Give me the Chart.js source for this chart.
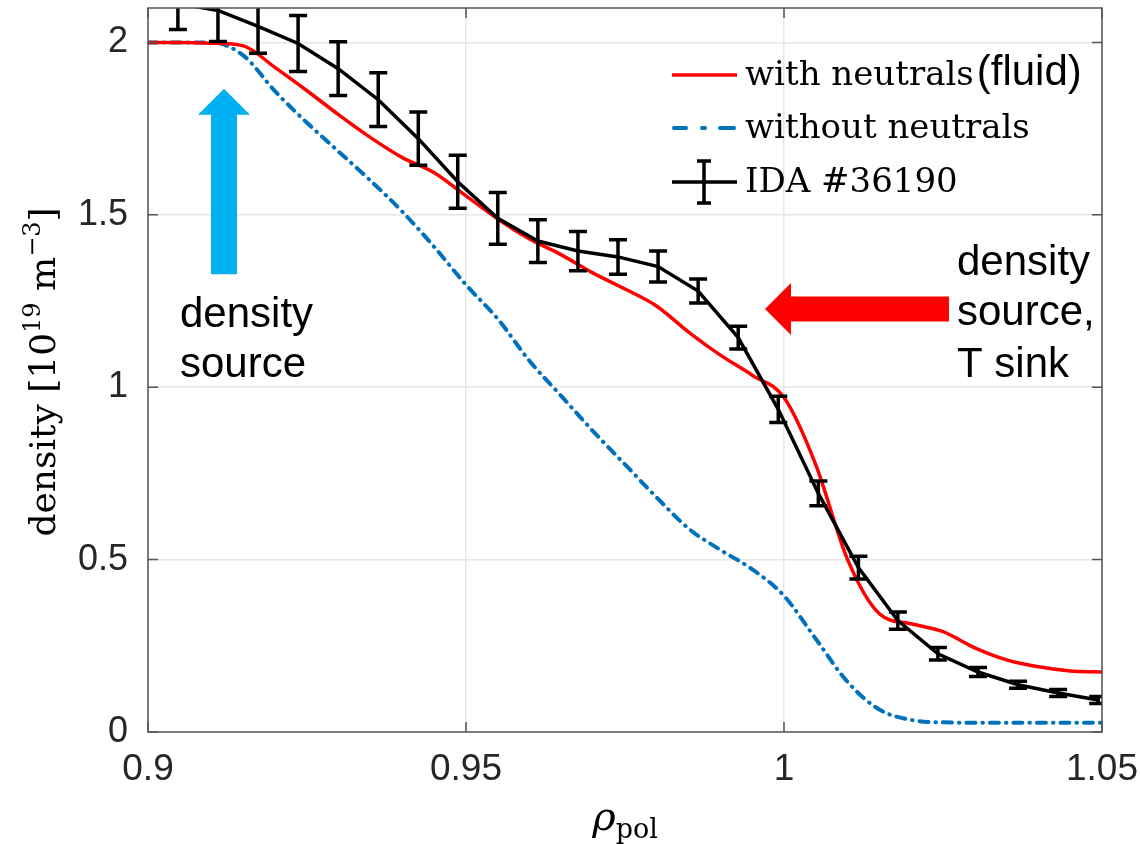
<!DOCTYPE html>
<html>
<head>
<meta charset="utf-8">
<script src="https://cdn.jsdelivr.net/npm/chart.js@4.4.0/dist/chart.umd.min.js"></script>
<style>
  html, body { margin: 0; padding: 0; background: #fff; }
</style>
</head>
<body>
<canvas id="density-profile" width="1140" height="844"></canvas>
<script>
// rho_pol grid of the two model runs
const rhoModel = [
  0.900, 0.905, 0.910, 0.915, 0.920, 0.925, 0.930, 0.935, 0.940, 0.945,
  0.950, 0.955, 0.960, 0.965, 0.970, 0.975, 0.980, 0.985, 0.990, 0.995,
  1.000, 1.005, 1.010, 1.015, 1.020, 1.025, 1.030, 1.035, 1.040, 1.045,
  1.050,
];
const withNeutrals = [
  2.000, 2.000, 1.998, 1.990, 1.927, 1.860, 1.790, 1.724, 1.666, 1.622,
  1.555, 1.488, 1.430, 1.384, 1.331, 1.285, 1.235, 1.160, 1.093, 1.035,
  0.970, 0.775, 0.500, 0.343, 0.314, 0.291, 0.244, 0.209, 0.189, 0.177,
  0.174,
];
const withoutNeutrals = [
  2.000, 2.000, 2.000, 1.962, 1.858, 1.767, 1.683, 1.599, 1.509, 1.407,
  1.297, 1.198, 1.076, 0.974, 0.872, 0.776, 0.680, 0.590, 0.528, 0.472,
  0.395, 0.270, 0.145, 0.065, 0.035, 0.028, 0.027, 0.027, 0.027, 0.027,
  0.027,
];
// IDA #36190 profile with error bars
const rhoIda = [
  0.9047, 0.9110, 0.9173, 0.9236, 0.9299, 0.9362, 0.9425, 0.9487,
  0.9550, 0.9613, 0.9676, 0.9739, 0.9802, 0.9865, 0.9928, 0.9991,
  1.0054, 1.0117, 1.0179, 1.0242, 1.0305, 1.0368, 1.0431, 1.0494,
];
const idaDensity = [
  2.113, 2.093, 2.047, 1.997, 1.924, 1.834, 1.721, 1.596,
  1.490, 1.424, 1.395, 1.378, 1.350, 1.279, 1.144, 0.936,
  0.692, 0.477, 0.323, 0.227, 0.174, 0.137, 0.113, 0.093,
];
const idaError = [
  0.075, 0.090, 0.078, 0.081, 0.078, 0.078, 0.077, 0.077,
  0.075, 0.062, 0.057, 0.050, 0.045, 0.035, 0.033, 0.038,
  0.036, 0.033, 0.025, 0.018, 0.013, 0.010, 0.010, 0.010,
];
// Axis ticks
const xTicks = [0.9, 0.95, 1, 1.05];
const yTicks = [0, 0.5, 1, 1.5, 2];

const SANS = '"Liberation Sans", Arial, sans-serif';
const SERIF = '"DejaVu Serif", serif';
const RED = '#ff0000';
const BLUE = '#0072bd';

// Annotation arrows, anchored in data coordinates
const sourceArrow = { x: 0.91195, tipY: 1.866, tailY: 1.328 };
const sinkArrow = { y: 1.227, tipX: 0.99701, tailX: 1.02594 };

// Draws a run of text pieces (for sub/superscripts), returns total width
const richWidth = (ctx, parts) => parts.reduce((w, p) => {
  ctx.font = p.font;
  return w + ctx.measureText(p.text).width;
}, 0);
const drawRich = (ctx, parts, x, y) => {
  let cx = x;
  parts.forEach((p) => {
    ctx.font = p.font;
    ctx.fillText(p.text, cx, y + (p.dy || 0));
    cx += ctx.measureText(p.text).width;
  });
};

// Box round the axes with inward tick marks, like MATLAB
const axesBox = {
  id: 'axesBox',
  afterDraw(c) {
    const { ctx, chartArea: a, scales: { x, y } } = c;
    ctx.save();
    ctx.strokeStyle = '#555555';
    ctx.lineWidth = 1.5;
    ctx.strokeRect(a.left, a.top, a.right - a.left, a.bottom - a.top);
    ctx.beginPath();
    xTicks.forEach((v) => {
      const px = x.getPixelForValue(v);
      ctx.moveTo(px, a.bottom); ctx.lineTo(px, a.bottom - 10);
      ctx.moveTo(px, a.top); ctx.lineTo(px, a.top + 10);
    });
    yTicks.forEach((v) => {
      const py = y.getPixelForValue(v);
      ctx.moveTo(a.left, py); ctx.lineTo(a.left + 10, py);
      ctx.moveTo(a.right, py); ctx.lineTo(a.right - 10, py);
    });
    ctx.stroke();
    ctx.restore();
  },
};

// Vertical error bars with caps for the IDA profile
const errorBars = {
  id: 'errorBars',
  afterDatasetsDraw(c) {
    const { ctx, chartArea: a, scales: { x, y } } = c;
    ctx.save();
    ctx.beginPath();
    ctx.rect(a.left, a.top, a.right - a.left, a.bottom - a.top);
    ctx.clip();
    ctx.strokeStyle = '#000';
    ctx.lineWidth = 3.5;
    rhoIda.forEach((r, i) => {
      const px = x.getPixelForValue(r);
      const lo = y.getPixelForValue(idaDensity[i] - idaError[i]);
      const hi = y.getPixelForValue(idaDensity[i] + idaError[i]);
      ctx.beginPath();
      ctx.moveTo(px, lo); ctx.lineTo(px, hi);
      ctx.moveTo(px - 9, lo); ctx.lineTo(px + 9, lo);
      ctx.moveTo(px - 9, hi); ctx.lineTo(px + 9, hi);
      ctx.stroke();
    });
    ctx.restore();
  },
};

// Legend, axis titles and the two annotation arrows
const overlay = {
  id: 'overlay',
  afterDraw(c) {
    const { ctx, chartArea: a, scales: { x, y } } = c;
    ctx.save();
    ctx.fillStyle = '#000';
    ctx.textAlign = 'left';
    ctx.textBaseline = 'alphabetic';

    // legend samples
    ctx.lineWidth = 3.5;
    ctx.strokeStyle = RED;
    ctx.beginPath(); ctx.moveTo(672, 75); ctx.lineTo(737, 75); ctx.stroke();
    ctx.strokeStyle = BLUE;
    ctx.lineWidth = 4;
    ctx.lineCap = 'round';
    ctx.beginPath();
    ctx.moveTo(674, 128); ctx.lineTo(686, 128);
    ctx.moveTo(702, 128); ctx.lineTo(705, 128);
    ctx.moveTo(720, 128); ctx.lineTo(734, 128);
    ctx.stroke();
    ctx.lineCap = 'butt';
    ctx.strokeStyle = '#000';
    ctx.lineWidth = 3.5;
    ctx.beginPath();
    ctx.moveTo(672, 182); ctx.lineTo(737, 182);
    ctx.moveTo(704, 161); ctx.lineTo(704, 203);
    ctx.moveTo(697, 161); ctx.lineTo(711, 161);
    ctx.moveTo(697, 203); ctx.lineTo(711, 203);
    ctx.stroke();

    // legend texts
    ctx.font = `34px ${SERIF}`;
    ctx.fillText('with neutrals', 745, 85);
    const w = ctx.measureText('with neutrals').width;
    ctx.fillText('without neutrals', 745, 138);
    ctx.fillText('IDA #36190', 745, 192);
    ctx.font = `42px ${SANS}`;
    ctx.fillText('(fluid)', 745 + w + 3, 85);

    // y axis title, rotated
    const yParts = [
      { text: 'density [10', font: `36px ${SERIF}` },
      { text: '19', font: `24px ${SERIF}`, dy: -15 },
      { text: ' m', font: `36px ${SERIF}` },
      { text: '\u22123', font: `24px ${SERIF}`, dy: -15 },
      { text: ']', font: `36px ${SERIF}` },
    ];
    ctx.save();
    ctx.translate(55, (a.top + a.bottom) / 2 + 2);
    ctx.rotate(-Math.PI / 2);
    drawRich(ctx, yParts, -richWidth(ctx, yParts) / 2, 0);
    ctx.restore();

    // x axis title
    const xParts = [
      { text: '\u03c1', font: `italic 40px ${SERIF}` },
      { text: 'pol', font: `27px ${SERIF}`, dy: 8 },
    ];
    drawRich(ctx, xParts, (a.left + a.right) / 2 - richWidth(ctx, xParts) / 2, 830);

    // blue arrow: density source
    const bx = x.getPixelForValue(sourceArrow.x);
    const bTip = y.getPixelForValue(sourceArrow.tipY);
    const bTail = y.getPixelForValue(sourceArrow.tailY);
    ctx.fillStyle = '#00b0f0';
    ctx.beginPath();
    ctx.moveTo(bx, bTip);
    ctx.lineTo(bx + 26, bTip + 26);
    ctx.lineTo(bx + 13, bTip + 26);
    ctx.lineTo(bx + 13, bTail);
    ctx.lineTo(bx - 13, bTail);
    ctx.lineTo(bx - 13, bTip + 26);
    ctx.lineTo(bx - 26, bTip + 26);
    ctx.closePath();
    ctx.fill();

    // red arrow: density source, T sink
    const ry = y.getPixelForValue(sinkArrow.y);
    const rTip = x.getPixelForValue(sinkArrow.tipX);
    const rTail = x.getPixelForValue(sinkArrow.tailX);
    ctx.fillStyle = RED;
    ctx.beginPath();
    ctx.moveTo(rTip, ry);
    ctx.lineTo(rTip + 26, ry - 26);
    ctx.lineTo(rTip + 26, ry - 12.5);
    ctx.lineTo(rTail, ry - 12.5);
    ctx.lineTo(rTail, ry + 12.5);
    ctx.lineTo(rTip + 26, ry + 12.5);
    ctx.lineTo(rTip + 26, ry + 26);
    ctx.closePath();
    ctx.fill();

    // annotation texts
    ctx.fillStyle = '#000';
    ctx.font = `42px ${SANS}`;
    ctx.fillText('density', 180, 327);
    ctx.fillText('source', 180, 377);
    ctx.fillText('density', 957, 275);
    ctx.fillText('source,', 957, 325);
    ctx.fillText('T sink', 957, 377);
    ctx.restore();
  },
};

const ctx = document.getElementById('density-profile');
// eslint-disable-next-line no-unused-vars
const chart = new Chart(ctx, {
  type: 'line',
  data: {
    datasets: [
      // Black line, IDA
      {
        label: 'IDA #36190',
        data: rhoIda.map((r, i) => ({ x: r, y: idaDensity[i] })),
        borderColor: '#000',
        borderWidth: 3.5,
        pointRadius: 0,
        tension: 0,
        order: 0,
      },
      // Red line
      {
        label: 'with neutrals',
        data: rhoModel.map((r, i) => ({ x: r, y: withNeutrals[i] })),
        borderColor: RED,
        borderWidth: 3.5,
        pointRadius: 0,
        cubicInterpolationMode: 'monotone',
        order: 1,
      },
      // Blue dash-dot line
      {
        label: 'without neutrals',
        data: rhoModel.map((r, i) => ({ x: r, y: withoutNeutrals[i] })),
        borderColor: BLUE,
        borderWidth: 4,
        borderDash: [9, 7, 0.5, 7],
        borderCapStyle: 'round',
        pointRadius: 0,
        cubicInterpolationMode: 'monotone',
        order: 2,
      },
    ],
  },
  options: {
    responsive: false,
    animation: false,
    layout: {
      padding: { top: 8, right: 38, left: 0, bottom: 0 },
    },
    scales: {
      x: {
        type: 'linear',
        min: 0.9,
        max: 1.05,
        afterBuildTicks: (s) => { s.ticks = xTicks.map((v) => ({ value: v })); },
        afterFit: (s) => { s.height = 112; s.paddingLeft = 0; s.paddingRight = 0; },
        border: { display: false },
        grid: { color: '#e6e6e6', lineWidth: 1.5, drawTicks: false },
        ticks: {
          padding: 16,
          maxRotation: 0,
          autoSkip: false,
          color: '#262626',
          font: { family: SANS, size: 37 },
          callback: (v) => `${v}`,
        },
      },
      y: {
        min: 0,
        max: 2.1,
        afterBuildTicks: (s) => { s.ticks = yTicks.map((v) => ({ value: v })); },
        afterFit: (s) => { s.width = 148; s.paddingTop = 0; s.paddingBottom = 0; },
        border: { display: false },
        grid: { color: '#e6e6e6', lineWidth: 1.5, drawTicks: false },
        ticks: {
          padding: 20,
          color: '#262626',
          font: { family: SANS, size: 36 },
          callback: (v) => `${v}`,
        },
      },
    },
    plugins: {
      legend: { display: false },
      tooltip: { enabled: false },
    },
  },
  plugins: [errorBars, axesBox, overlay],
});
</script>
</body>
</html>
